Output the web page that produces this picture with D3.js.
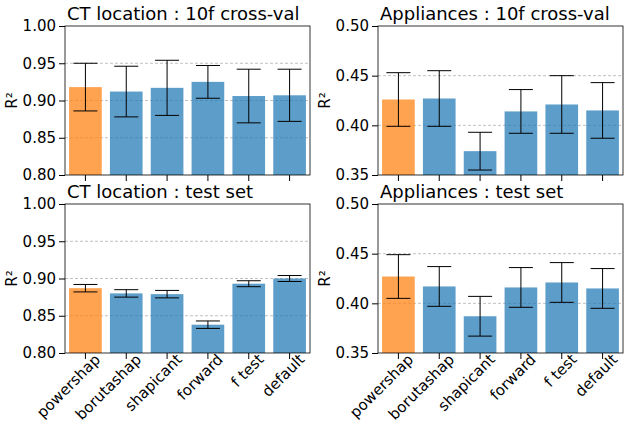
<!DOCTYPE html>
<html><head><meta charset="utf-8">
<script src="https://cdn.jsdelivr.net/npm/d3@7"></script>
<style>body{margin:0;background:#fff}text{font-family:"DejaVu Sans",sans-serif}</style>
</head><body><svg id="c" width="631" height="439"></svg>
<script>
var methods = ["powershap", "borutashap", "shapicant", "forward", "f test", "default"];
var ctCvMean = [0.918, 0.912, 0.917, 0.925, 0.906, 0.907];
var ctCvErr  = [0.032, 0.034, 0.037, 0.022, 0.036, 0.035];
var apCvMean = [0.426, 0.427, 0.374, 0.414, 0.421, 0.415];
var apCvErr  = [0.027, 0.028, 0.019, 0.022, 0.029, 0.028];
var ctTsMean = [0.887, 0.880, 0.879, 0.838, 0.893, 0.900];
var ctTsErr  = [0.005, 0.005, 0.005, 0.005, 0.004, 0.004];
var apTsMean = [0.427, 0.417, 0.387, 0.416, 0.421, 0.415];
var apTsErr  = [0.022, 0.020, 0.020, 0.020, 0.020, 0.020];
var ctTicks = [0.80, 0.85, 0.90, 0.95, 1.00];
var apTicks = [0.35, 0.40, 0.45, 0.50];

var svg = d3.select("#c");
var panels = [
  {title: "CT location : 10f cross-val", m: ctCvMean, e: ctCvErr, t: ctTicks, x: 65, y: 26, labels: false},
  {title: "Appliances : 10f cross-val", m: apCvMean, e: apCvErr, t: apTicks, x: 378, y: 26, labels: false},
  {title: "CT location : test set", m: ctTsMean, e: ctTsErr, t: ctTicks, x: 65, y: 204, labels: true},
  {title: "Appliances : test set", m: apTsMean, e: apTsErr, t: apTicks, x: 378, y: 204, labels: true}
];
var w = 245, h = 149;

panels.forEach(function(p) {
  var g = svg.append("g").attr("transform", "translate(" + p.x + "," + p.y + ")");
  var x = d3.scaleBand().domain(methods).range([0, w]).paddingInner(0.2).paddingOuter(0.1);
  var y = d3.scaleLinear().domain([p.t[0], p.t[p.t.length - 1]]).range([h, 0]);

  g.selectAll("line.grid").data(p.t.slice(1, -1)).enter().append("line").attr("class", "grid")
    .attr("x1", 0).attr("x2", w).attr("y1", y).attr("y2", y)
    .attr("stroke", "#b0b0b0").attr("stroke-width", 0.8).attr("stroke-dasharray", "3,2");

  g.selectAll("rect.bar").data(p.m).enter().append("rect").attr("class", "bar")
    .attr("x", function(d, i) { return x(methods[i]); })
    .attr("width", x.bandwidth())
    .attr("y", function(d) { return y(d); })
    .attr("height", function(d) { return h - y(d); })
    .attr("fill", function(d, i) { return i == 0 ? "#ff7f0e" : "#1f77b4"; })
    .attr("fill-opacity", 0.72);

  p.m.forEach(function(d, i) {
    var cx = x(methods[i]) + x.bandwidth() / 2;
    var y1 = y(d + p.e[i]), y2 = y(d - p.e[i]);
    g.append("line").attr("x1", cx).attr("x2", cx).attr("y1", y1).attr("y2", y2).attr("stroke", "#000");
    [y1, y2].forEach(function(yy) {
      g.append("line").attr("x1", cx - 12).attr("x2", cx + 12).attr("y1", yy).attr("y2", yy).attr("stroke", "#000");
    });
  });

  var ya = g.append("g").call(d3.axisLeft(y).tickValues(p.t)
    .tickFormat(function(d) { return d.toFixed(2); }).tickSizeOuter(0));
  ya.selectAll("text").attr("font-size", 15).attr("fill", "#000");
  ya.select(".domain").remove();

  var xa = g.append("g").attr("transform", "translate(0," + h + ")")
    .call(d3.axisBottom(x).tickSizeOuter(0).tickFormat(function(d) { return p.labels ? d : ""; }));
  xa.select(".domain").remove();
  if (p.labels) {
    xa.selectAll("text").attr("font-size", 15).attr("fill", "#000")
      .attr("text-anchor", "end").attr("dx", "0.4em").attr("dy", "0.5em")
      .attr("transform", "rotate(-45)");
  }

  g.append("rect").attr("width", w).attr("height", h).attr("fill", "none").attr("stroke", "#000").attr("stroke-width", 0.8);

  g.append("text").attr("x", 2).attr("y", -6).attr("font-size", 18).text(p.title);
  g.append("text").attr("transform", "translate(-48," + (h / 2) + ") rotate(-90)")
    .attr("text-anchor", "middle").attr("font-size", 15).text("R²");
});
</script></body></html>
